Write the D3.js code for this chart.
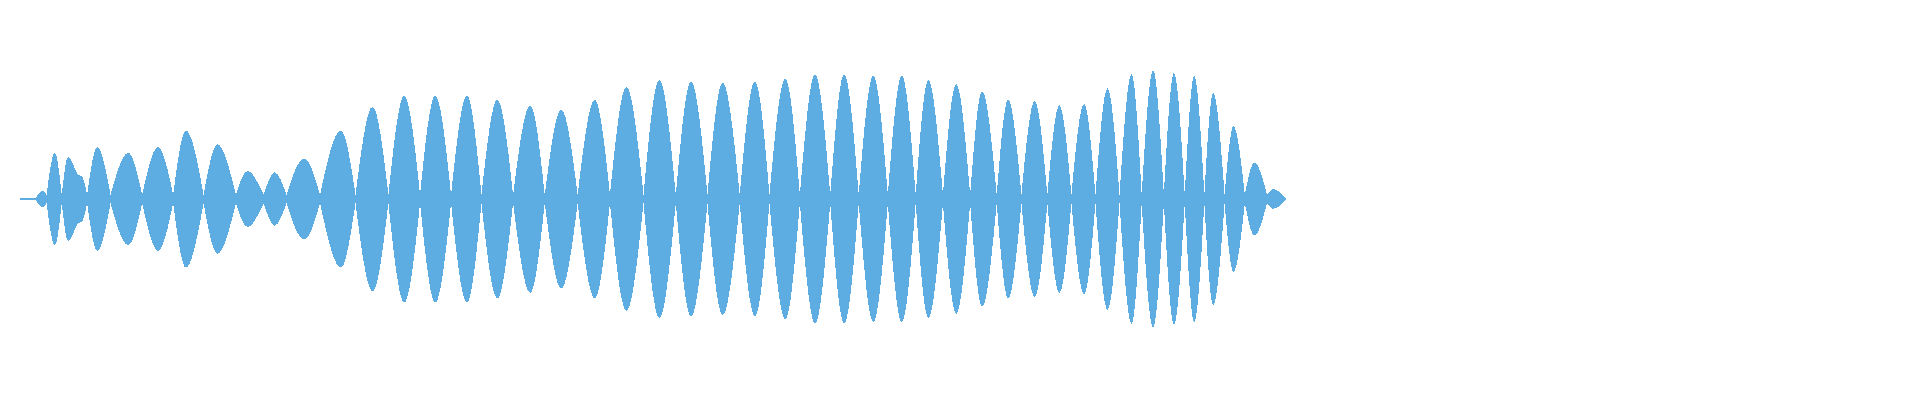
<!DOCTYPE html>
<html>
<head>
<meta charset="utf-8">
<script src="https://cdn.jsdelivr.net/npm/d3@7"></script>
<style>
  html, body { margin: 0; padding: 0; background: #ffffff; }
  svg { display: block; }
</style>
</head>
<body>
<svg id="chart" width="1920" height="400"></svg>
<script>
// ---- data (time in ms, amplitude normalized -1..1) ----
const leadInTimes = [0, 25];
const leadInAmps = [0.006, 0.006];

// boundaries of each envelope lobe (ms)
const lobeEdges = [25, 42, 66, 106, 143, 193, 242, 290, 341, 385, 421, 474, 530, 582, 632, 681, 729, 779, 829, 881, 932, 985, 1036, 1086, 1137, 1184, 1232, 1280, 1325, 1371, 1415, 1458, 1501, 1543, 1582, 1623, 1661, 1699, 1737, 1772, 1807, 1840, 1871, 1903, 1935, 1970, 2000];
// time of each lobe peak (ms)
const lobePeakTimes = [36, 55, 76, 122, 171, 218, 262, 312, 359, 402, 449, 507, 557, 607, 656, 706, 754, 806, 855, 908, 958, 1010, 1060, 1110, 1161, 1209, 1256, 1302, 1348, 1393, 1435, 1479, 1520, 1561, 1603, 1642, 1681, 1718, 1756, 1790, 1823, 1855, 1885, 1917, 1950, 1980];
// peak amplitude of each lobe
const lobePeaks = [0.06, 0.33, 0.30, 0.37, 0.33, 0.37, 0.49, 0.39, 0.20, 0.19, 0.29, 0.49, 0.66, 0.74, 0.74, 0.74, 0.71, 0.67, 0.64, 0.71, 0.80, 0.85, 0.84, 0.83, 0.84, 0.86, 0.89, 0.89, 0.88, 0.88, 0.85, 0.82, 0.77, 0.71, 0.70, 0.67, 0.68, 0.79, 0.89, 0.92, 0.90, 0.88, 0.76, 0.52, 0.26, 0.07];
// shoulder on the falling side of the third lobe
const shoulderLobe = 2;
const shoulderTimes = [93, 98];
const shoulderAmps = [0.17, 0.16];
// amplitude left between lobes
const troughAmp = 0.03;
const firstEdgeAmp = 0.006;
const lastEdgeAmp = 0.0;

const color = "#5DADE2";

// ---- scales ----
const svg = d3.select("#chart");
const x = d3.scaleLinear().domain([0, 2000]).range([20, 1286]);
const y = d3.scaleLinear().domain([-1, 1]).range([339, 59]);

const area = d3.area()
  .x(d => x(d.t))
  .y0(d => y(-d.a))
  .y1(d => y(d.a))
  .curve(d3.curveMonotoneX);

const g = svg.append("g");

// lead-in flat section
const lead = leadInTimes.map((t, i) => ({ t, a: leadInAmps[i] }));
g.append("path")
  .attr("d", d3.area().x(d => x(d.t)).y0(d => y(-d.a)).y1(d => y(d.a))(lead))
  .attr("fill", color)
  .attr("shape-rendering", "crispEdges");

// lobes
const lobes = lobePeaks.map((p, i) => {
  const n = lobePeaks.length;
  const a0 = i === 0 ? firstEdgeAmp : troughAmp;
  const a1 = i === n - 1 ? lastEdgeAmp : troughAmp;
  const pts = [{ t: lobeEdges[i], a: a0 }, { t: lobePeakTimes[i], a: p }];
  if (i === shoulderLobe) {
    shoulderTimes.forEach((t, k) => pts.push({ t, a: shoulderAmps[k] }));
  }
  pts.push({ t: lobeEdges[i + 1], a: a1 });
  return pts;
});

g.selectAll("path.lobe")
  .data(lobes)
  .join("path")
  .attr("class", "lobe")
  .attr("d", area)
  .attr("fill", color)
  .attr("shape-rendering", "crispEdges");
</script>
</body>
</html>
